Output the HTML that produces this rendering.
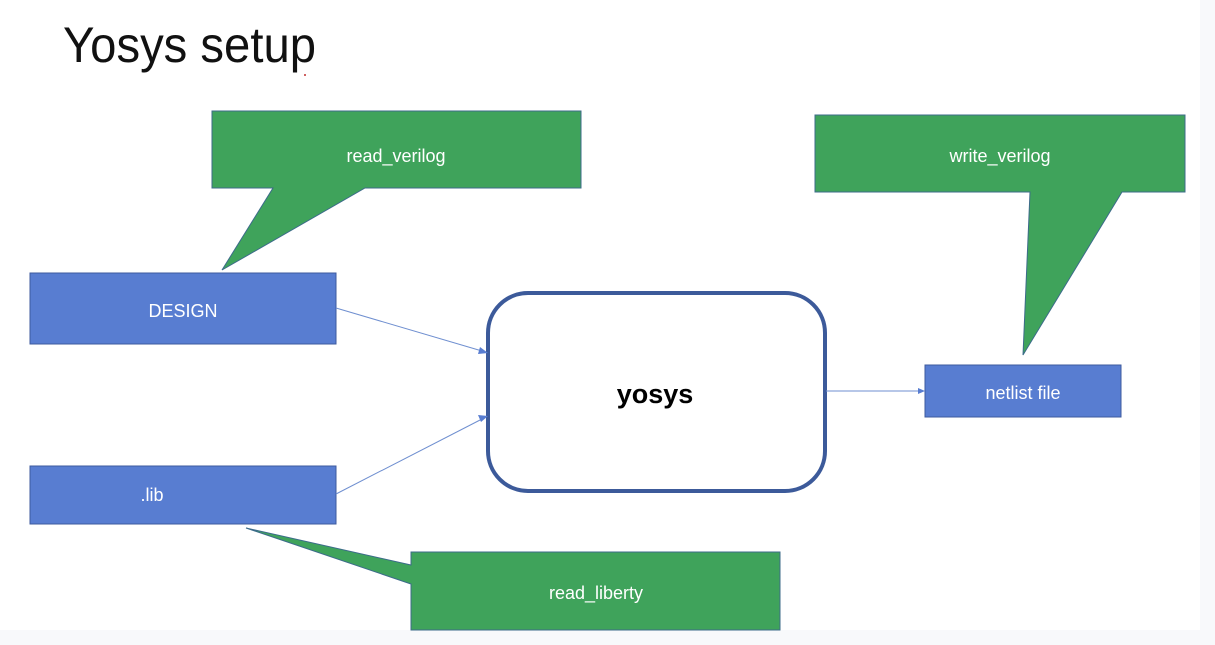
<!DOCTYPE html>
<html><head><meta charset="utf-8"><style>
html,body{margin:0;padding:0;background:#fff;}
svg{display:block;}
</style></head><body>
<svg width="1215" height="645" viewBox="0 0 1215 645" xmlns="http://www.w3.org/2000/svg" font-family="'Liberation Sans', sans-serif">
<rect x="0" y="0" width="1215" height="645" fill="#f8f9fb"/>
<rect x="0" y="0" width="1200" height="630" fill="#ffffff"/>
<text x="63" y="62" font-size="50" fill="#111" textLength="253" lengthAdjust="spacingAndGlyphs">Yosys setup</text>
<circle cx="305" cy="75" r="1" fill="#c03030"/>

<polygon points="212,111 581,111 581,188 365,188 222,270 273,188 212,188" fill="#3fa35b" stroke="#3c6b8a" stroke-width="1"/>
<text x="396" y="162" font-size="18" fill="#fff" text-anchor="middle">read_verilog</text>

<polygon points="815,115 1185,115 1185,192 1122,192 1023,355 1030,192 815,192" fill="#3fa35b" stroke="#3c6b8a" stroke-width="1"/>
<text x="1000" y="162" font-size="18" fill="#fff" text-anchor="middle">write_verilog</text>

<polygon points="411,552 780,552 780,630 411,630 411,584 246,528 411,565" fill="#3fa35b" stroke="#3c6b8a" stroke-width="1"/>
<text x="596" y="599" font-size="18" fill="#fff" text-anchor="middle">read_liberty</text>

<rect x="30" y="273" width="306" height="71" fill="#587dd1" stroke="#3d5a9e" stroke-width="1"/>
<text x="183" y="317" font-size="18" fill="#fff" text-anchor="middle">DESIGN</text>
<rect x="30" y="466" width="306" height="58" fill="#587dd1" stroke="#3d5a9e" stroke-width="1"/>
<text x="152" y="501" font-size="18" fill="#fff" text-anchor="middle">.lib</text>

<rect x="488" y="293" width="337" height="198" rx="40" ry="40" fill="#fff" stroke="#3c5a9a" stroke-width="4"/>
<text x="655" y="403" font-size="27" font-weight="bold" fill="#000" text-anchor="middle">yosys</text>

<rect x="925" y="365" width="196" height="52" fill="#587dd1" stroke="#3d5a9e" stroke-width="1"/>
<text x="1023" y="399" font-size="18" fill="#fff" text-anchor="middle">netlist file</text>

<g stroke="#6f8fd0" stroke-width="1" fill="none">
<line x1="336" y1="308" x2="482" y2="351"/>
<line x1="336" y1="494" x2="482" y2="419"/>
<line x1="826" y1="391" x2="919" y2="391"/>
</g>
<g fill="#587dd1">
<polygon points="488,353 480,347 478,354"/>
<polygon points="488,416 478,415 481,422"/>
<polygon points="925,391 918,388 918,394"/>
</g>
</svg>
</body></html>
